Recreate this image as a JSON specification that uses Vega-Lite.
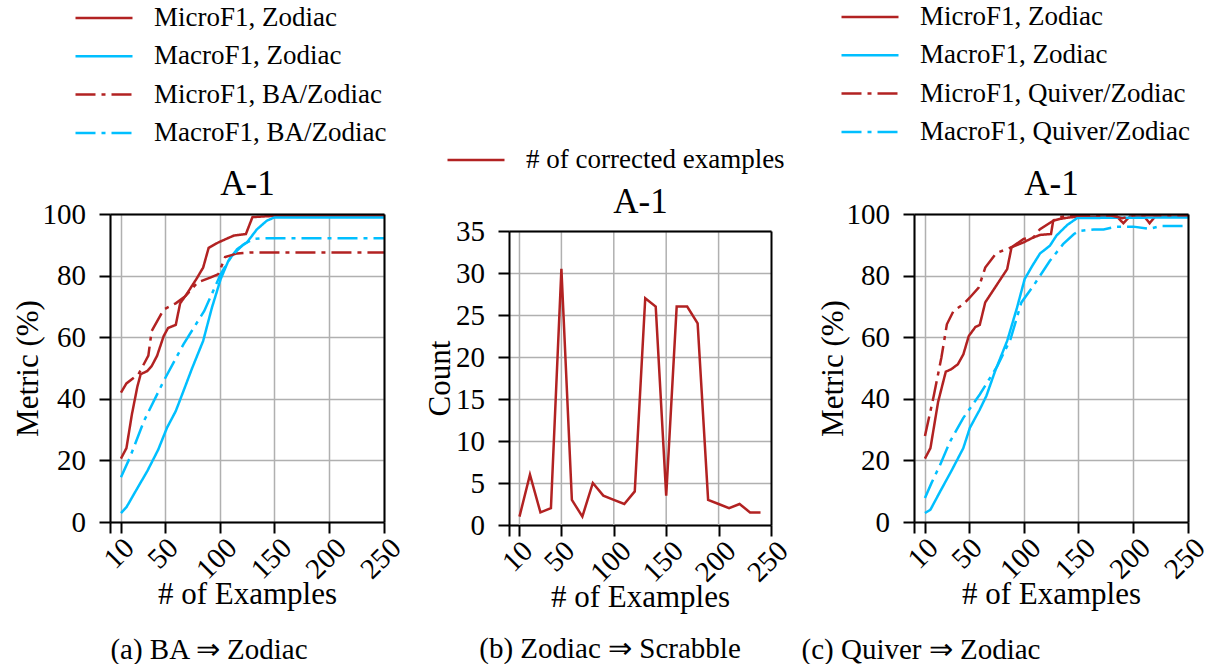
{
  "$schema": "https://vega.github.io/schema/vega-lite/v6.json",
  "background": "white",
  "padding": {"left": 12, "top": 2, "right": 0, "bottom": 0},
  "bounds": "flush",
  "spacing": 125,
  "config": {
    "font": "Liberation Serif",
    "view": {"stroke": null},
    "axis": {
      "domainColor": "black", "domainWidth": 2, "tickColor": "black", "tickWidth": 2, "tickSize": 11,
      "gridColor": "#b0b0b0", "gridWidth": 1.5, "gridOpacity": 1,
      "labelFont": "Liberation Serif", "labelFontSize": 29, "labelColor": "black",
      "titleFont": "Liberation Serif", "titleFontSize": 31, "titleFontWeight": "normal", "titleColor": "black",
      "labelFlush": false, "labelOverlap": false, "labelBound": false
    },
    "legend": {
      "orient": "none", "direction": "vertical", "padding": 0,
      "symbolType": "stroke", "symbolSize": 3249, "symbolStrokeWidth": 2.5,
      "clipHeight": 30, "rowPadding": 8.3,
      "labelFont": "Liberation Serif", "labelFontSize": 27, "labelColor": "black", "labelOffset": 20, "labelLimit": 0
    },
    "title": {"font": "Liberation Serif", "fontSize": 29, "fontWeight": "normal", "color": "black", "orient": "bottom", "baseline": "alphabetic", "offset": 27},
    "line": {"strokeWidth": 2.5}
  },
  "datasets": {
    "a": [
      {"n": 10, "value": 20.6, "series": "MicroF1, Zodiac"},
      {"n": 15, "value": 24, "series": "MicroF1, Zodiac"},
      {"n": 20, "value": 35, "series": "MicroF1, Zodiac"},
      {"n": 25, "value": 44, "series": "MicroF1, Zodiac"},
      {"n": 28, "value": 48, "series": "MicroF1, Zodiac"},
      {"n": 34, "value": 49, "series": "MicroF1, Zodiac"},
      {"n": 38, "value": 50.6, "series": "MicroF1, Zodiac"},
      {"n": 43, "value": 54, "series": "MicroF1, Zodiac"},
      {"n": 49, "value": 60.4, "series": "MicroF1, Zodiac"},
      {"n": 53, "value": 63, "series": "MicroF1, Zodiac"},
      {"n": 60, "value": 64, "series": "MicroF1, Zodiac"},
      {"n": 64, "value": 71, "series": "MicroF1, Zodiac"},
      {"n": 70, "value": 74, "series": "MicroF1, Zodiac"},
      {"n": 79, "value": 79, "series": "MicroF1, Zodiac"},
      {"n": 85, "value": 82.6, "series": "MicroF1, Zodiac"},
      {"n": 90, "value": 89, "series": "MicroF1, Zodiac"},
      {"n": 99, "value": 90.8, "series": "MicroF1, Zodiac"},
      {"n": 113, "value": 93, "series": "MicroF1, Zodiac"},
      {"n": 124, "value": 93.5, "series": "MicroF1, Zodiac"},
      {"n": 130, "value": 99, "series": "MicroF1, Zodiac"},
      {"n": 150, "value": 99.4, "series": "MicroF1, Zodiac"},
      {"n": 250, "value": 99.4, "series": "MicroF1, Zodiac"},
      {"n": 10, "value": 2.9, "series": "MacroF1, Zodiac"},
      {"n": 15, "value": 4.8, "series": "MacroF1, Zodiac"},
      {"n": 25, "value": 11, "series": "MacroF1, Zodiac"},
      {"n": 34, "value": 16.5, "series": "MacroF1, Zodiac"},
      {"n": 44, "value": 23.5, "series": "MacroF1, Zodiac"},
      {"n": 52, "value": 30.6, "series": "MacroF1, Zodiac"},
      {"n": 60, "value": 36, "series": "MacroF1, Zodiac"},
      {"n": 67, "value": 42.5, "series": "MacroF1, Zodiac"},
      {"n": 75, "value": 50, "series": "MacroF1, Zodiac"},
      {"n": 85, "value": 58.8, "series": "MacroF1, Zodiac"},
      {"n": 93, "value": 69.6, "series": "MacroF1, Zodiac"},
      {"n": 101, "value": 78.9, "series": "MacroF1, Zodiac"},
      {"n": 108, "value": 84.8, "series": "MacroF1, Zodiac"},
      {"n": 116, "value": 88.6, "series": "MacroF1, Zodiac"},
      {"n": 125, "value": 90.8, "series": "MacroF1, Zodiac"},
      {"n": 134, "value": 95, "series": "MacroF1, Zodiac"},
      {"n": 143, "value": 97.8, "series": "MacroF1, Zodiac"},
      {"n": 150, "value": 98.9, "series": "MacroF1, Zodiac"},
      {"n": 250, "value": 98.9, "series": "MacroF1, Zodiac"},
      {"n": 10, "value": 42, "series": "MicroF1, BA/Zodiac"},
      {"n": 15, "value": 45, "series": "MicroF1, BA/Zodiac"},
      {"n": 26, "value": 48, "series": "MicroF1, BA/Zodiac"},
      {"n": 35, "value": 54, "series": "MicroF1, BA/Zodiac"},
      {"n": 38, "value": 62, "series": "MicroF1, BA/Zodiac"},
      {"n": 49, "value": 69, "series": "MicroF1, BA/Zodiac"},
      {"n": 60, "value": 71, "series": "MicroF1, BA/Zodiac"},
      {"n": 69, "value": 73.4, "series": "MicroF1, BA/Zodiac"},
      {"n": 80, "value": 77.8, "series": "MicroF1, BA/Zodiac"},
      {"n": 92, "value": 79.4, "series": "MicroF1, BA/Zodiac"},
      {"n": 99, "value": 80.5, "series": "MicroF1, BA/Zodiac"},
      {"n": 105, "value": 86, "series": "MicroF1, BA/Zodiac"},
      {"n": 116, "value": 87.2, "series": "MicroF1, BA/Zodiac"},
      {"n": 128, "value": 87.5, "series": "MicroF1, BA/Zodiac"},
      {"n": 250, "value": 87.5, "series": "MicroF1, BA/Zodiac"},
      {"n": 10, "value": 14.5, "series": "MacroF1, BA/Zodiac"},
      {"n": 18, "value": 20.8, "series": "MacroF1, BA/Zodiac"},
      {"n": 31, "value": 32.8, "series": "MacroF1, BA/Zodiac"},
      {"n": 49, "value": 45.8, "series": "MacroF1, BA/Zodiac"},
      {"n": 67, "value": 57.7, "series": "MacroF1, BA/Zodiac"},
      {"n": 86, "value": 68.5, "series": "MacroF1, BA/Zodiac"},
      {"n": 101, "value": 80.5, "series": "MacroF1, BA/Zodiac"},
      {"n": 111, "value": 86.4, "series": "MacroF1, BA/Zodiac"},
      {"n": 122, "value": 90.2, "series": "MacroF1, BA/Zodiac"},
      {"n": 131, "value": 91.9, "series": "MacroF1, BA/Zodiac"},
      {"n": 137, "value": 92.1, "series": "MacroF1, BA/Zodiac"},
      {"n": 250, "value": 92.1, "series": "MacroF1, BA/Zodiac"}
    ],
    "b": [
      {"n": 10, "value": 1, "series": "# of corrected examples"},
      {"n": 20, "value": 6, "series": "# of corrected examples"},
      {"n": 30, "value": 1.5, "series": "# of corrected examples"},
      {"n": 40, "value": 2, "series": "# of corrected examples"},
      {"n": 50, "value": 30.5, "series": "# of corrected examples"},
      {"n": 60, "value": 3, "series": "# of corrected examples"},
      {"n": 70, "value": 1, "series": "# of corrected examples"},
      {"n": 80, "value": 5, "series": "# of corrected examples"},
      {"n": 90, "value": 3.5, "series": "# of corrected examples"},
      {"n": 100, "value": 3, "series": "# of corrected examples"},
      {"n": 110, "value": 2.5, "series": "# of corrected examples"},
      {"n": 120, "value": 4, "series": "# of corrected examples"},
      {"n": 130, "value": 27, "series": "# of corrected examples"},
      {"n": 140, "value": 26, "series": "# of corrected examples"},
      {"n": 150, "value": 3.5, "series": "# of corrected examples"},
      {"n": 160, "value": 26, "series": "# of corrected examples"},
      {"n": 170, "value": 26, "series": "# of corrected examples"},
      {"n": 180, "value": 24, "series": "# of corrected examples"},
      {"n": 190, "value": 3, "series": "# of corrected examples"},
      {"n": 200, "value": 2.5, "series": "# of corrected examples"},
      {"n": 210, "value": 2, "series": "# of corrected examples"},
      {"n": 220, "value": 2.5, "series": "# of corrected examples"},
      {"n": 230, "value": 1.5, "series": "# of corrected examples"},
      {"n": 240, "value": 1.5, "series": "# of corrected examples"}
    ],
    "c": [
      {"n": 10, "value": 20.6, "series": "MicroF1, Zodiac"},
      {"n": 15, "value": 24, "series": "MicroF1, Zodiac"},
      {"n": 22, "value": 39, "series": "MicroF1, Zodiac"},
      {"n": 29, "value": 48.8, "series": "MicroF1, Zodiac"},
      {"n": 34, "value": 49.6, "series": "MicroF1, Zodiac"},
      {"n": 40, "value": 51.2, "series": "MicroF1, Zodiac"},
      {"n": 45, "value": 54.4, "series": "MicroF1, Zodiac"},
      {"n": 50, "value": 60.4, "series": "MicroF1, Zodiac"},
      {"n": 56, "value": 63.3, "series": "MicroF1, Zodiac"},
      {"n": 60, "value": 64, "series": "MicroF1, Zodiac"},
      {"n": 65, "value": 71.3, "series": "MicroF1, Zodiac"},
      {"n": 75, "value": 76.7, "series": "MicroF1, Zodiac"},
      {"n": 85, "value": 82.1, "series": "MicroF1, Zodiac"},
      {"n": 89, "value": 89.2, "series": "MicroF1, Zodiac"},
      {"n": 100, "value": 90.8, "series": "MicroF1, Zodiac"},
      {"n": 109, "value": 92.4, "series": "MicroF1, Zodiac"},
      {"n": 115, "value": 93.2, "series": "MicroF1, Zodiac"},
      {"n": 125, "value": 93.5, "series": "MicroF1, Zodiac"},
      {"n": 127, "value": 97.8, "series": "MicroF1, Zodiac"},
      {"n": 133, "value": 98.4, "series": "MicroF1, Zodiac"},
      {"n": 142, "value": 98.9, "series": "MicroF1, Zodiac"},
      {"n": 150, "value": 99.1, "series": "MicroF1, Zodiac"},
      {"n": 185, "value": 99.2, "series": "MicroF1, Zodiac"},
      {"n": 191, "value": 97, "series": "MicroF1, Zodiac"},
      {"n": 197, "value": 99.2, "series": "MicroF1, Zodiac"},
      {"n": 210, "value": 99.2, "series": "MicroF1, Zodiac"},
      {"n": 215, "value": 97, "series": "MicroF1, Zodiac"},
      {"n": 220, "value": 99.2, "series": "MicroF1, Zodiac"},
      {"n": 250, "value": 99.2, "series": "MicroF1, Zodiac"},
      {"n": 10, "value": 2.9, "series": "MacroF1, Zodiac"},
      {"n": 15, "value": 4, "series": "MacroF1, Zodiac"},
      {"n": 24, "value": 10, "series": "MacroF1, Zodiac"},
      {"n": 34, "value": 16.5, "series": "MacroF1, Zodiac"},
      {"n": 45, "value": 24, "series": "MacroF1, Zodiac"},
      {"n": 51, "value": 30.6, "series": "MacroF1, Zodiac"},
      {"n": 60, "value": 36.5, "series": "MacroF1, Zodiac"},
      {"n": 66, "value": 40.9, "series": "MacroF1, Zodiac"},
      {"n": 74, "value": 49, "series": "MacroF1, Zodiac"},
      {"n": 85, "value": 58.8, "series": "MacroF1, Zodiac"},
      {"n": 94, "value": 69.6, "series": "MacroF1, Zodiac"},
      {"n": 101, "value": 78.9, "series": "MacroF1, Zodiac"},
      {"n": 108, "value": 83.2, "series": "MacroF1, Zodiac"},
      {"n": 115, "value": 87.2, "series": "MacroF1, Zodiac"},
      {"n": 124, "value": 89.7, "series": "MacroF1, Zodiac"},
      {"n": 130, "value": 93, "series": "MacroF1, Zodiac"},
      {"n": 140, "value": 96.5, "series": "MacroF1, Zodiac"},
      {"n": 149, "value": 98.7, "series": "MacroF1, Zodiac"},
      {"n": 250, "value": 98.9, "series": "MacroF1, Zodiac"},
      {"n": 10, "value": 27.9, "series": "MicroF1, Quiver/Zodiac"},
      {"n": 18, "value": 40.9, "series": "MicroF1, Quiver/Zodiac"},
      {"n": 25, "value": 53.4, "series": "MicroF1, Quiver/Zodiac"},
      {"n": 30, "value": 64.2, "series": "MicroF1, Quiver/Zodiac"},
      {"n": 36, "value": 68.5, "series": "MicroF1, Quiver/Zodiac"},
      {"n": 45, "value": 70.7, "series": "MicroF1, Quiver/Zodiac"},
      {"n": 51, "value": 72.9, "series": "MicroF1, Quiver/Zodiac"},
      {"n": 59, "value": 76.1, "series": "MicroF1, Quiver/Zodiac"},
      {"n": 65, "value": 82.6, "series": "MicroF1, Quiver/Zodiac"},
      {"n": 75, "value": 87.3, "series": "MicroF1, Quiver/Zodiac"},
      {"n": 89, "value": 89.2, "series": "MicroF1, Quiver/Zodiac"},
      {"n": 100, "value": 91.9, "series": "MicroF1, Quiver/Zodiac"},
      {"n": 109, "value": 92.4, "series": "MicroF1, Quiver/Zodiac"},
      {"n": 115, "value": 95.1, "series": "MicroF1, Quiver/Zodiac"},
      {"n": 127, "value": 97.8, "series": "MicroF1, Quiver/Zodiac"},
      {"n": 131, "value": 98.9, "series": "MicroF1, Quiver/Zodiac"},
      {"n": 145, "value": 99.5, "series": "MicroF1, Quiver/Zodiac"},
      {"n": 180, "value": 99.5, "series": "MicroF1, Quiver/Zodiac"},
      {"n": 190, "value": 98.6, "series": "MicroF1, Quiver/Zodiac"},
      {"n": 200, "value": 99.6, "series": "MicroF1, Quiver/Zodiac"},
      {"n": 250, "value": 99.6, "series": "MicroF1, Quiver/Zodiac"},
      {"n": 10, "value": 7.8, "series": "MacroF1, Quiver/Zodiac"},
      {"n": 16, "value": 12.7, "series": "MacroF1, Quiver/Zodiac"},
      {"n": 24, "value": 18.7, "series": "MacroF1, Quiver/Zodiac"},
      {"n": 33, "value": 26.2, "series": "MacroF1, Quiver/Zodiac"},
      {"n": 45, "value": 33.8, "series": "MacroF1, Quiver/Zodiac"},
      {"n": 60, "value": 41.4, "series": "MacroF1, Quiver/Zodiac"},
      {"n": 76, "value": 50.6, "series": "MacroF1, Quiver/Zodiac"},
      {"n": 88, "value": 59.3, "series": "MacroF1, Quiver/Zodiac"},
      {"n": 98, "value": 71.3, "series": "MacroF1, Quiver/Zodiac"},
      {"n": 109, "value": 76.7, "series": "MacroF1, Quiver/Zodiac"},
      {"n": 124, "value": 84.8, "series": "MacroF1, Quiver/Zodiac"},
      {"n": 136, "value": 90.2, "series": "MacroF1, Quiver/Zodiac"},
      {"n": 146, "value": 93.5, "series": "MacroF1, Quiver/Zodiac"},
      {"n": 151, "value": 94.5, "series": "MacroF1, Quiver/Zodiac"},
      {"n": 164, "value": 95, "series": "MacroF1, Quiver/Zodiac"},
      {"n": 173, "value": 95, "series": "MacroF1, Quiver/Zodiac"},
      {"n": 185, "value": 95.9, "series": "MacroF1, Quiver/Zodiac"},
      {"n": 200, "value": 95.9, "series": "MacroF1, Quiver/Zodiac"},
      {"n": 215, "value": 95.2, "series": "MacroF1, Quiver/Zodiac"},
      {"n": 225, "value": 96.1, "series": "MacroF1, Quiver/Zodiac"},
      {"n": 250, "value": 96.1, "series": "MacroF1, Quiver/Zodiac"}
    ]
  },
  "hconcat": [
    {
      "width": 274, "height": 308,
      "data": {"name": "a"},
      "title": {"text": "(a) BA ⇒ Zodiac", "dx": -38},
      "layer": [
        {
          "mark": {"type": "line", "strokeWidth": 2.5},
          "encoding": {
            "x": {"field": "n", "type": "quantitative", "scale": {"domain": [0, 250], "nice": false, "zero": false},
              "axis": {"orient": "bottom", "values": [0, 10, 50, 100, 150, 200, 250], "labelExpr": "datum.value == 0 ? '' : datum.label",
                "labelAngle": -45, "labelAlign": "right", "labelBaseline": "middle", "labelPadding": 10,
                "labelOffset": {"condition": {"test": "datum.value >= 100", "value": 12}, "value": 8},
                "title": "# of Examples", "titleY": 81, "titleBaseline": "alphabetic", "grid": true}},
            "y": {"field": "value", "type": "quantitative", "scale": {"domain": [0, 100], "nice": false},
              "axis": {"orient": "left", "values": [0, 20, 40, 60, 80, 100], "labelPadding": 13.5, "title": "Metric (%)", "titleX": -73, "titleBaseline": "alphabetic", "grid": true}},
            "color": {"field": "series", "type": "nominal",
              "scale": {"domain": ["MicroF1, Zodiac", "MacroF1, Zodiac", "MicroF1, BA/Zodiac", "MacroF1, BA/Zodiac"], "range": ["#b22222", "#00bfff", "#b22222", "#00bfff"]},
              "legend": {"title": null, "orient": "none", "legendX": -36, "legendY": -211}},
            "strokeDash": {"field": "series", "type": "nominal",
              "scale": {"domain": ["MicroF1, Zodiac", "MacroF1, Zodiac", "MicroF1, BA/Zodiac", "MacroF1, BA/Zodiac"], "range": [[1, 0], [1, 0], [20, 6, 4, 6], [20, 6, 4, 6]]},
              "legend": {"title": null, "orient": "none", "legendX": -36, "legendY": -211}}
          }
        },
        {
          "mark": {"type": "point", "opacity": 0},
          "encoding": {
            "x": {"field": "n", "type": "quantitative", "axis": {"orient": "top", "ticks": false, "labels": false, "grid": false, "title": "A-1", "titleFontSize": 35, "titleBaseline": "alphabetic", "titleY": -20, "zindex": 1}},
            "y": {"field": "value", "type": "quantitative", "axis": {"orient": "right", "ticks": false, "labels": false, "grid": false, "title": null, "zindex": 1}}
          }
        }
      ],
      "resolve": {"axis": {"x": "independent", "y": "independent"}}
    },
    {
      "width": 280, "height": 311,
      "data": {"name": "b"},
      "title": {"text": "(b) Zodiac ⇒ Scrabble", "dx": -39, "offset": 23},
      "layer": [
        {
          "transform": [{"filter": "indexof([10, 50, 100, 150, 200], datum.n) >= 0"}],
          "mark": {"type": "rule", "color": "#b0b0b0", "strokeWidth": 1.5},
          "encoding": {
            "x": {"field": "n", "type": "quantitative", "axis": null},
            "y": {"datum": 0, "type": "quantitative", "axis": null},
            "y2": {"datum": 35}
          }
        },
        {
          "mark": {"type": "line", "strokeWidth": 2.5},
          "encoding": {
            "x": {"field": "n", "type": "quantitative", "scale": {"domain": [0, 250], "range": [0, 262], "nice": false, "zero": false},
              "axis": {"orient": "bottom", "values": [0, 10, 50, 100, 150, 200, 250], "labelExpr": "datum.value == 0 ? '' : datum.label",
                "labelAngle": -45, "labelAlign": "right", "labelBaseline": "middle", "labelPadding": 10,
                "labelOffset": {"condition": {"test": "datum.value >= 100", "value": 12}, "value": 8},
                "title": "# of Examples", "titleY": 81, "titleBaseline": "alphabetic", "grid": false}},
            "y": {"field": "value", "type": "quantitative", "scale": {"domain": [0, 35], "range": [311, 17], "nice": false},
              "axis": {"orient": "left", "values": [0, 5, 10, 15, 20, 25, 30, 35], "labelPadding": 13.5, "title": "Count", "titleX": -60, "titleBaseline": "alphabetic", "grid": true,
                "encode": {"grid": {"x": {"value": 0}, "x2": {"value": 262}}}}},
            "color": {"field": "series", "type": "nominal",
              "scale": {"domain": ["# of corrected examples"], "range": ["#b22222"]},
              "legend": {"title": null, "orient": "none", "legendX": -63, "legendY": -69}}
          }
        },
        {
          "mark": {"type": "point", "opacity": 0},
          "encoding": {
            "x": {"field": "n", "type": "quantitative", "axis": {"orient": "top", "offset": -17, "ticks": false, "labels": false, "grid": false, "title": "A-1", "titleFontSize": 35, "titleBaseline": "alphabetic", "titleY": -19, "zindex": 1}},
            "y": {"field": "value", "type": "quantitative", "axis": {"orient": "right", "offset": -18, "ticks": false, "labels": false, "grid": false, "title": null, "zindex": 1}}
          }
        }
      ],
      "resolve": {"axis": {"x": "independent", "y": "independent"}}
    },
    {
      "width": 274, "height": 308,
      "data": {"name": "c"},
      "title": {"text": "(c) Quiver ⇒ Zodiac", "dx": -130},
      "layer": [
        {
          "mark": {"type": "line", "strokeWidth": 2.5},
          "encoding": {
            "x": {"field": "n", "type": "quantitative", "scale": {"domain": [0, 250], "nice": false, "zero": false},
              "axis": {"orient": "bottom", "values": [0, 10, 50, 100, 150, 200, 250], "labelExpr": "datum.value == 0 ? '' : datum.label",
                "labelAngle": -45, "labelAlign": "right", "labelBaseline": "middle", "labelPadding": 10,
                "labelOffset": {"condition": {"test": "datum.value >= 100", "value": 12}, "value": 8},
                "title": "# of Examples", "titleY": 81, "titleBaseline": "alphabetic", "grid": true}},
            "y": {"field": "value", "type": "quantitative", "scale": {"domain": [0, 100], "nice": false},
              "axis": {"orient": "left", "values": [0, 20, 40, 60, 80, 100], "labelPadding": 13.5, "title": "Metric (%)", "titleX": -72, "titleBaseline": "alphabetic", "grid": true}},
            "color": {"field": "series", "type": "nominal",
              "scale": {"domain": ["MicroF1, Zodiac", "MacroF1, Zodiac", "MicroF1, Quiver/Zodiac", "MacroF1, Quiver/Zodiac"], "range": ["#b22222", "#00bfff", "#b22222", "#00bfff"]},
              "legend": {"title": null, "orient": "none", "legendX": -74, "legendY": -212}},
            "strokeDash": {"field": "series", "type": "nominal",
              "scale": {"domain": ["MicroF1, Zodiac", "MacroF1, Zodiac", "MicroF1, Quiver/Zodiac", "MacroF1, Quiver/Zodiac"], "range": [[1, 0], [1, 0], [20, 6, 4, 6], [20, 6, 4, 6]]},
              "legend": {"title": null, "orient": "none", "legendX": -74, "legendY": -212}}
          }
        },
        {
          "mark": {"type": "point", "opacity": 0},
          "encoding": {
            "x": {"field": "n", "type": "quantitative", "axis": {"orient": "top", "ticks": false, "labels": false, "grid": false, "title": "A-1", "titleFontSize": 35, "titleBaseline": "alphabetic", "titleY": -20, "zindex": 1}},
            "y": {"field": "value", "type": "quantitative", "axis": {"orient": "right", "ticks": false, "labels": false, "grid": false, "title": null, "zindex": 1}}
          }
        }
      ],
      "resolve": {"axis": {"x": "independent", "y": "independent"}}
    }
  ],
  "resolve": {"scale": {"color": "independent", "strokeDash": "independent"}, "legend": {"color": "independent", "strokeDash": "independent"}}
}
